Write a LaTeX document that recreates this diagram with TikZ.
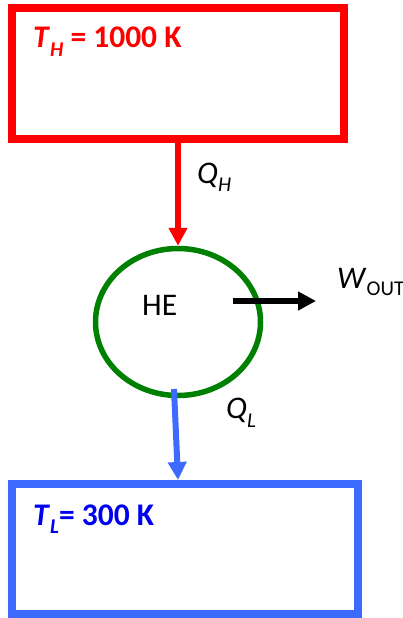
\documentclass[tikz,border=0pt]{standalone}
\usepackage{fontspec}
\setmainfont{Carlito}
\usetikzlibrary{shapes.geometric}
\usetikzlibrary{arrows.meta}
\definecolor{hotred}{RGB}{255,0,0}
\definecolor{coldblue}{RGB}{61,106,255}
\definecolor{textblue}{RGB}{0,0,240}
\definecolor{engreen}{RGB}{0,128,0}
\newcommand{\lowsub}[2][-9pt]{\raisebox{#1}{\fontsize{21}{21}\selectfont #2}}

\begin{document}
\begin{tikzpicture}[x=1pt, y=-1pt,
    reservoir/.style={draw, rectangle, line width=8pt, minimum width=332pt, minimum height=131pt, inner sep=0pt},
    flow/.style={line width=6pt, -{Triangle[length=18pt,width=18pt]}},
    big/.style={font=\fontsize{31.5}{36}\selectfont, inner sep=0pt, anchor=base west}]
        \useasboundingbox (0,0) rectangle (403,618);
        \node[reservoir, draw=hotred] (hot) at (178,73.5) {};
        \node[reservoir, draw=coldblue, minimum width=346pt, minimum height=130pt] (cold) at (185,549) {};
        \node[draw=engreen, ellipse, line width=5.5pt, minimum width=165pt, minimum height=147pt, inner sep=0pt] (engine) at (178,322) {};
        \node[big, text=hotred] (th) at (33,48) {\bfseries\textit{T}\lowsub{\textit{H}} = 1000 K};
        \node[big, text=textblue] (tl) at (33,525) {\bfseries\textit{T}\lowsub[-8pt]{\textit{L}}= 300 K};
        \node[big] (he) at (142,315) {HE};
        \node[big] (qh) at (197,183) {\itshape Q\lowsub[-8pt]{H}};
        \node[big] (ql) at (226,418) {\itshape Q\lowsub[-9pt]{L}};
        \node[big] (wout) at (337,288) {\textit{W}\lowsub[-7pt]{OUT}};
        \coordinate (lstart) at (174,389);
        \coordinate (wstart) at (233,301);
        \coordinate (wtip) at (316,301);
        \draw[flow, hotred] (hot.south) -- (engine.north);
        \draw[flow, coldblue] (lstart) -- (cold.north -| engine);
        \draw[flow, black] (wstart) -- (wtip);
\end{tikzpicture}
\end{document}
